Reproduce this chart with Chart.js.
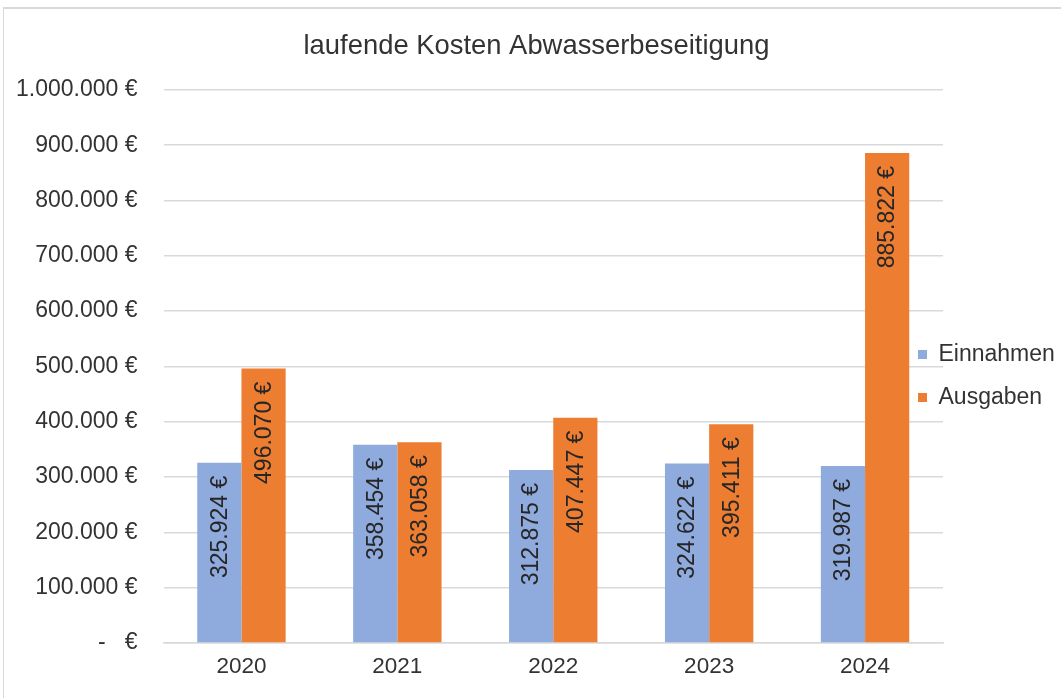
<!DOCTYPE html>
<html>
<head>
<meta charset="utf-8">
<script src="https://cdn.jsdelivr.net/npm/chart.js@4.4.1/dist/chart.umd.min.js"></script>
<style>
  html, body { margin: 0; padding: 0; background: #fff; }
  #frame {
    position: absolute; left: 3px; top: 7px; width: 1070px; height: 700px;
    border-left: 1px solid #d9d9d9; border-top: 2px solid #d9d9d9;
  }
  #wrap { position: absolute; left: 0; top: 0; width: 1061px; height: 698px; }
</style>
</head>
<body>
<div id="frame"></div>
<div id="wrap"><canvas id="chart" width="1061" height="698"></canvas></div>
<script>
// Daten
const categories = ['2020', '2021', '2022', '2023', '2024'];
const einnahmen = [325924, 358454, 312875, 324622, 319987];
const ausgaben = [496070, 363058, 407447, 395411, 885822];
const yTicks = [0, 100000, 200000, 300000, 400000, 500000, 600000, 700000, 800000, 900000, 1000000];

const FONT = '"Liberation Sans", Arial, sans-serif';

function euro(v) {
  if (v === 0) return '-   €';
  return String(Math.round(v)).replace(/\B(?=(\d{3})+(?!\d))/g, '.') + ' €';
}

// Werte gedreht in die Balken schreiben
const valueLabels = {
  id: 'valueLabels',
  afterDatasetsDraw(chart) {
    const ctx = chart.ctx;
    ctx.save();
    ctx.font = '23px ' + FONT;
    ctx.fillStyle = '#262626';
    ctx.textAlign = 'right';
    ctx.textBaseline = 'middle';
    chart.data.datasets.forEach((ds, i) => {
      chart.getDatasetMeta(i).data.forEach((bar, j) => {
        ctx.save();
        ctx.translate(bar.x + 1, bar.y + 13);
        ctx.rotate(-Math.PI / 2);
        ctx.fillText(euro(ds.data[j]), 0, 0);
        ctx.restore();
      });
    });
    ctx.restore();
  }
};

// Legende etwas in den Plotbereich ruecken, Titel etwas nach rechts (wie im Original)
const layoutShift = {
  id: 'layoutShift',
  afterLayout(chart) {
    const lg = chart.legend;
    lg.left -= 45;
    lg.top += 31; lg.bottom += 31;
    const tb = chart.titleBlock;
    tb.left += 11; tb.right += 11;
  }
};

Chart.defaults.font.family = FONT;
Chart.defaults.color = '#333333';

new Chart(document.getElementById('chart'), {
  type: 'bar',
  data: {
    labels: categories,
    datasets: [
      { label: 'Einnahmen', data: einnahmen, backgroundColor: '#8faadc', categoryPercentage: 0.567, barPercentage: 1 },
      { label: 'Ausgaben', data: ausgaben, backgroundColor: '#ed7d31', categoryPercentage: 0.567, barPercentage: 1 }
    ]
  },
  options: {
    responsive: false,
    animation: false,
    layout: { padding: { left: -10, right: 0, top: 0, bottom: 8 } },
    plugins: {
      title: {
        display: true,
        text: 'laufende Kosten Abwasserbeseitigung',
        font: { size: 27.4, weight: 'normal' },
        color: '#333333',
        padding: { top: 30, bottom: 27 }
      },
      legend: {
        position: 'right',
        maxWidth: 118,
        labels: { boxWidth: 9, boxHeight: 9, font: { size: 23 }, color: '#333333', padding: 20 }
      },
      tooltip: { enabled: false }
    },
    scales: {
      x: {
        grid: { display: false, drawTicks: false },
        border: { color: '#d9d9d9', width: 1.5 },
        ticks: { font: { size: 22.5 }, color: '#333333', padding: 10 }
      },
      y: {
        min: 0,
        max: 1000000,
        afterBuildTicks(scale) { scale.ticks = yTicks.map(v => ({ value: v })); },
        grid: { color: '#d9d9d9', lineWidth: 1.5, drawTicks: false },
        border: { display: false },
        ticks: { font: { size: 23 }, color: '#333333', padding: 26, callback: v => euro(v) }
      }
    }
  },
  plugins: [valueLabels, layoutShift]
});
</script>
</body>
</html>
